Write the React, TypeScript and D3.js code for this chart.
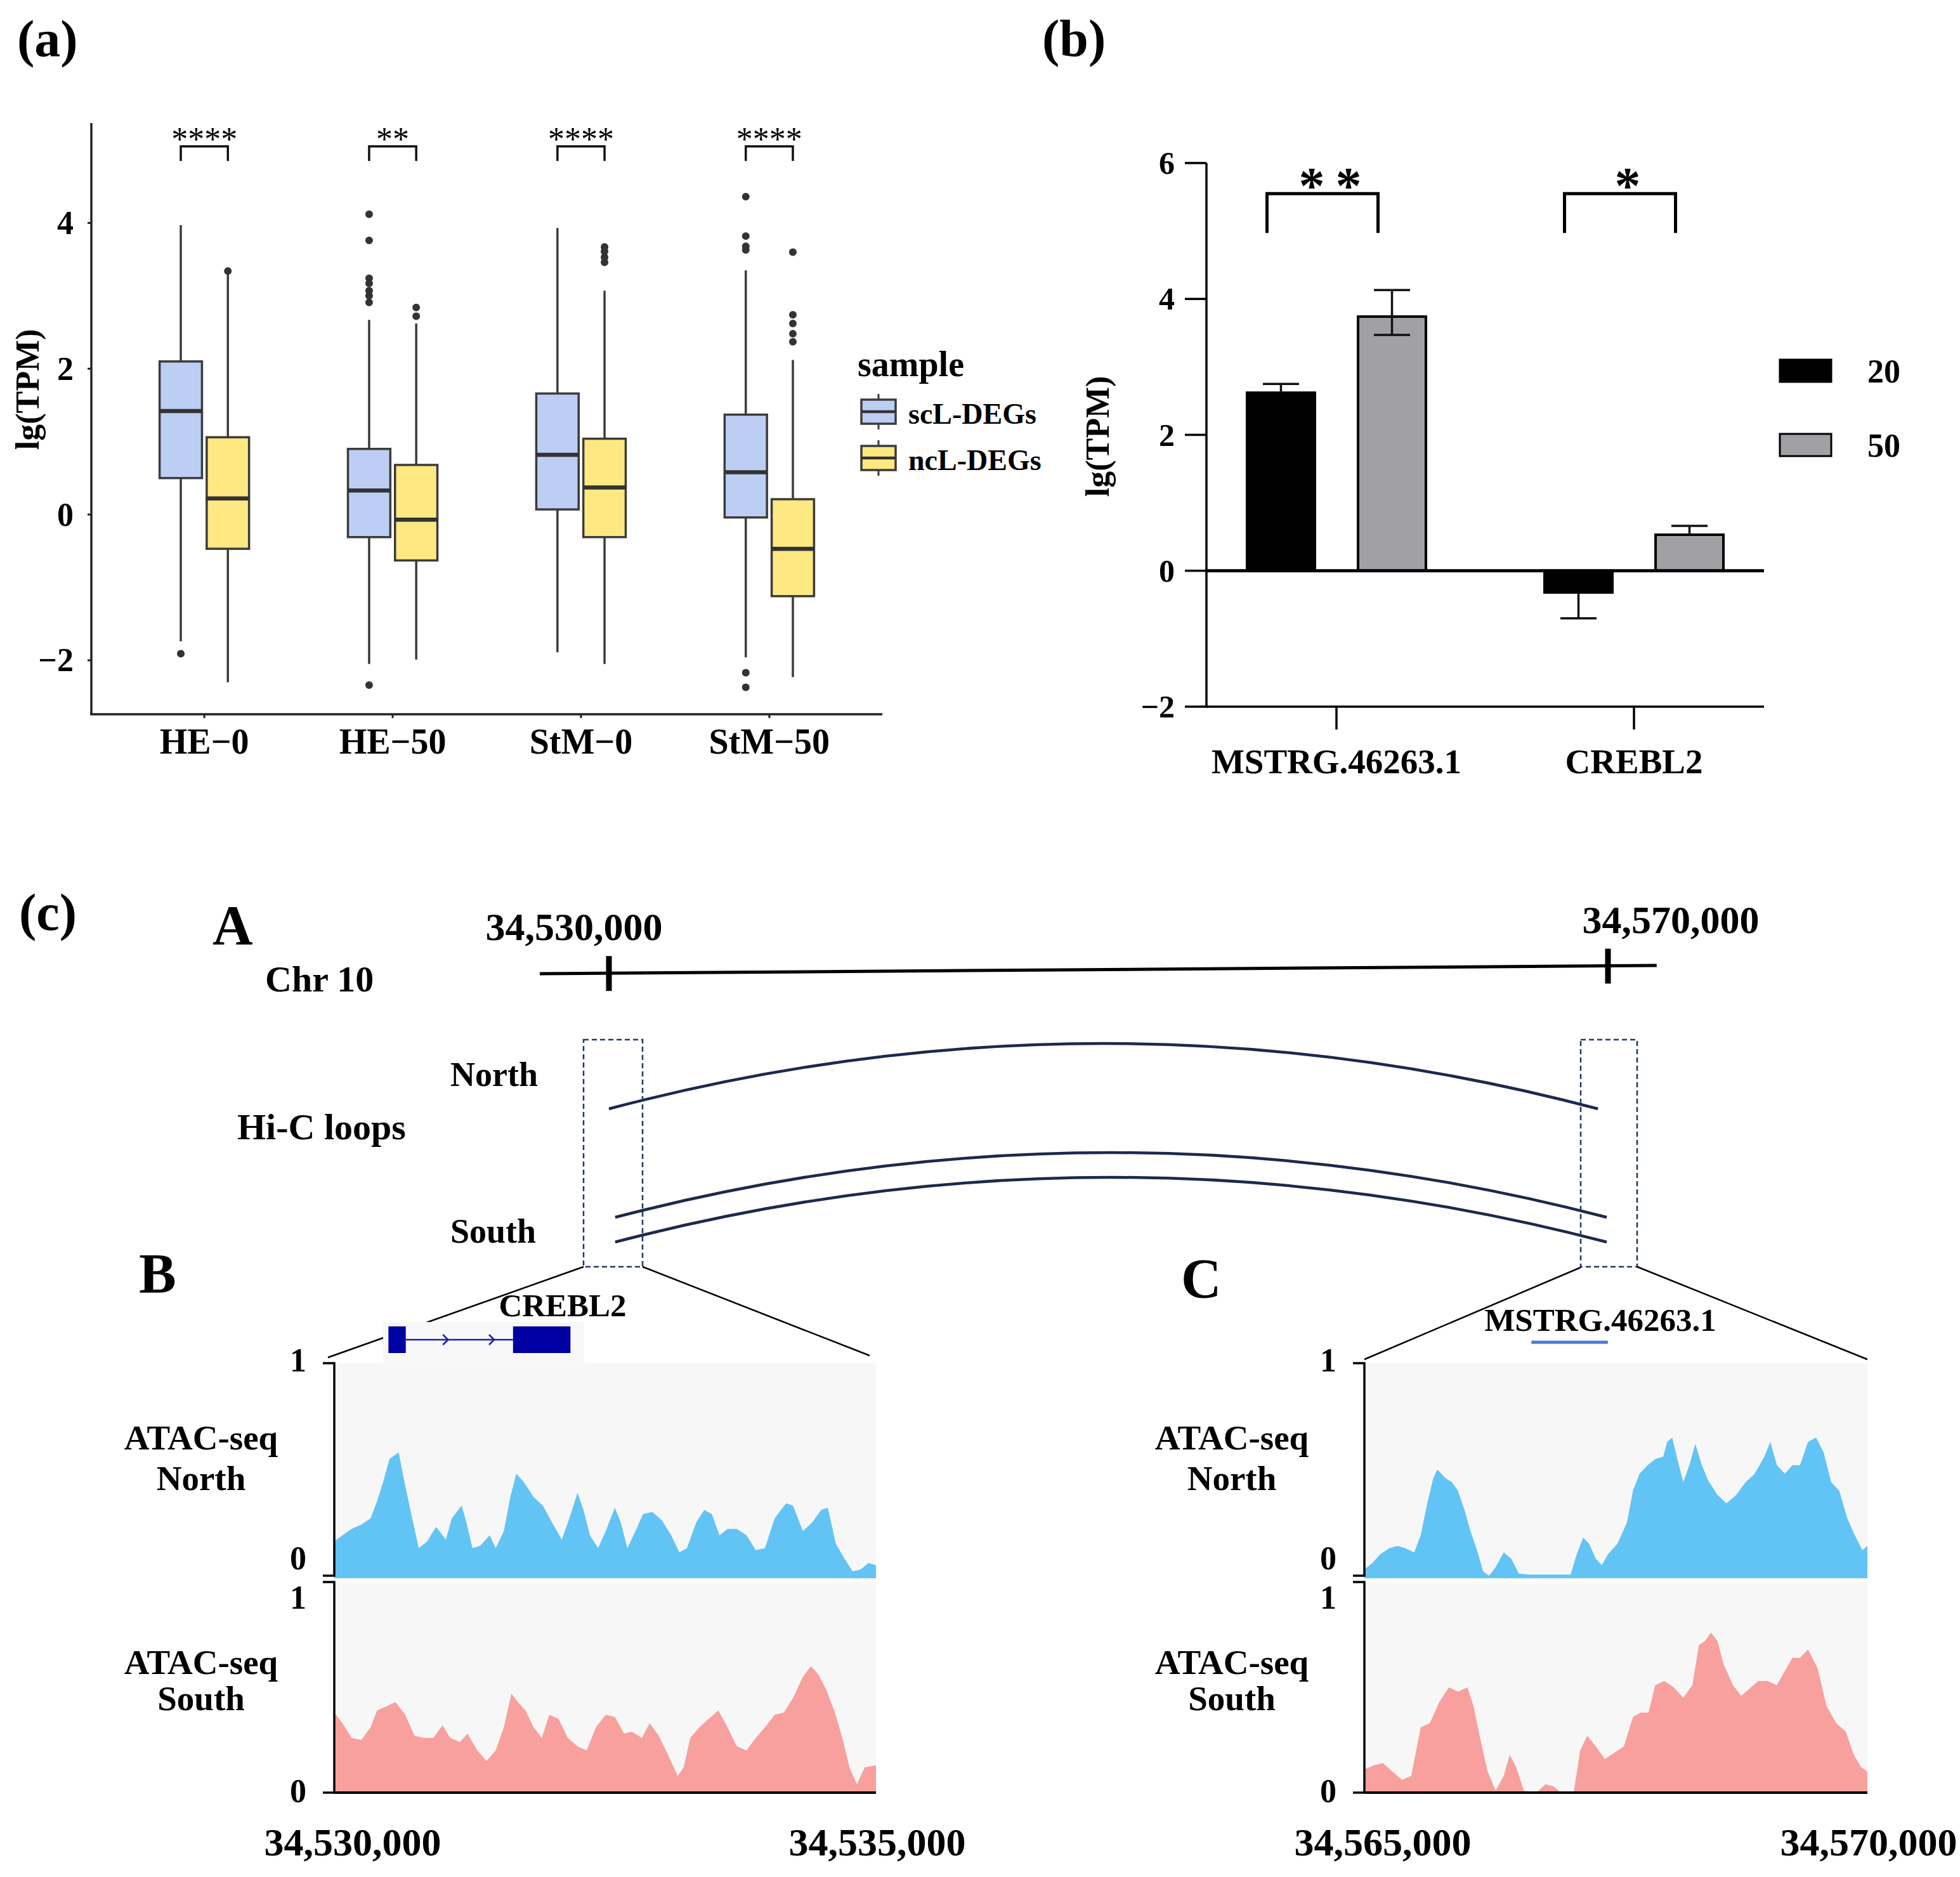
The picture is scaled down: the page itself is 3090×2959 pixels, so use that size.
import * as d3 from "d3";

const SERIF = "'Liberation Serif', 'Times New Roman', Times, serif";

// ---------- (a) box plots ----------
const GROUPS = ["HE−0", "HE−50", "StM−0", "StM−50"];
const SAMPLES = ["scL-DEGs", "ncL-DEGs"];
// [lower whisker, Q1, median, Q3, upper whisker]
const SCL_BOXES = [
  [-1.74, 0.5, 1.42, 2.1, 3.97],
  [-2.05, -0.31, 0.33, 0.9, 2.67],
  [-1.89, 0.07, 0.82, 1.66, 3.93],
  [-1.96, -0.04, 0.58, 1.37, 3.35],
];
const NCL_BOXES = [
  [-2.3, -0.47, 0.22, 1.06, 3.3],
  [-1.99, -0.63, -0.07, 0.68, 2.62],
  [-2.05, -0.31, 0.37, 1.04, 3.07],
  [-2.23, -1.12, -0.47, 0.21, 2.12],
];
const SCL_OUTLIERS = [
  [-1.91],
  [4.12, 3.76, 3.24, 3.17, 3.07, 3.0, 2.91, -2.34],
  [],
  [4.36, 3.82, 3.68, 3.63, -2.17, -2.37],
];
const NCL_OUTLIERS = [[3.34], [2.84, 2.72], [3.67, 3.61, 3.53, 3.46], [3.6, 2.74, 2.62, 2.48, 2.37]];
const SIGNIF_A = ["****", "**", "****", "****"];
const TICKS_A = [-2, 0, 2, 4];

// ---------- (b) bar chart ----------
const GENES = ["MSTRG.46263.1", "CREBL2"];
const TEMPS = ["20", "50"];
const MEAN_20 = [2.62, -0.32];
const LOW_20 = [2.62, -0.7];
const HIGH_20 = [2.75, -0.32];
const MEAN_50 = [3.74, 0.53];
const LOW_50 = [3.47, 0.53];
const HIGH_50 = [4.13, 0.66];
const SIGNIF_B = ["**", "*"];
const TICKS_B = [-2, 0, 2, 4, 6];

// ---------- (c) Hi-C loops and ATAC-seq ----------
const CHR_TICKS = [34530000, 34570000];
const CHR_SPAN = [34527230, 34571950];
const LOOPS_NORTH = [[34530000, 34569600]];
const LOOPS_SOUTH = [
  [34530250, 34569950],
  [34530250, 34569950],
];
const WINDOW_B = [34530000, 34535000];
const WINDOW_C = [34565000, 34570000];
const CREBL2_EXONS = [
  [500, 660],
  [1650, 2180],
];
const MSTRG_SPAN = [1660, 2420];

// [bp offset from window start, normalised signal]
const B_NORTH = [
  [0, 0.16], [75, 0.19], [160, 0.22], [250, 0.24], [335, 0.27], [395, 0.35], [450, 0.44], [510, 0.55],
  [595, 0.58], [640, 0.46], [710, 0.29], [780, 0.13], [855, 0.16], [940, 0.23], [1030, 0.17], [1085, 0.27],
  [1175, 0.33], [1220, 0.25], [1275, 0.13], [1345, 0.14], [1435, 0.19], [1490, 0.13], [1565, 0.21],
  [1625, 0.37], [1680, 0.48], [1750, 0.44], [1840, 0.37], [1925, 0.33], [2010, 0.25], [2100, 0.17],
  [2170, 0.27], [2245, 0.39], [2300, 0.31], [2360, 0.19], [2435, 0.13], [2505, 0.21], [2590, 0.32],
  [2645, 0.25], [2705, 0.13], [2780, 0.21], [2850, 0.29], [2935, 0.3], [3025, 0.26], [3110, 0.19],
  [3185, 0.11], [3255, 0.13], [3340, 0.25], [3415, 0.31], [3485, 0.29], [3555, 0.19], [3630, 0.22],
  [3715, 0.22], [3805, 0.19], [3890, 0.12], [3975, 0.13], [4065, 0.27], [4170, 0.34], [4235, 0.33],
  [4325, 0.21], [4410, 0.25], [4495, 0.31], [4555, 0.32], [4630, 0.15], [4710, 0.08], [4785, 0.02],
  [4860, 0.03], [4930, 0.06], [5000, 0.05],
];
const B_SOUTH = [
  [0, 0.38], [75, 0.33], [160, 0.26], [250, 0.25], [335, 0.31], [395, 0.39], [480, 0.41], [565, 0.43],
  [655, 0.37], [740, 0.27], [825, 0.26], [915, 0.26], [1000, 0.32], [1070, 0.26], [1160, 0.24],
  [1230, 0.28], [1320, 0.2], [1405, 0.15], [1490, 0.2], [1565, 0.31], [1635, 0.47], [1695, 0.43],
  [1765, 0.39], [1840, 0.31], [1915, 0.26], [1985, 0.37], [2070, 0.35], [2155, 0.26], [2245, 0.22],
  [2330, 0.2], [2415, 0.31], [2505, 0.37], [2590, 0.36], [2675, 0.28], [2745, 0.29], [2840, 0.26],
  [2910, 0.33], [2995, 0.27], [3080, 0.18], [3170, 0.08], [3225, 0.12], [3285, 0.26], [3370, 0.31],
  [3455, 0.35], [3545, 0.39], [3630, 0.31], [3715, 0.22], [3805, 0.2], [3890, 0.26], [3975, 0.31],
  [4065, 0.37], [4150, 0.38], [4235, 0.45], [4325, 0.55], [4400, 0.6], [4470, 0.56], [4540, 0.49],
  [4615, 0.39], [4690, 0.26], [4755, 0.12], [4825, 0.04], [4895, 0.12], [5000, 0.13],
];
const C_NORTH = [
  [0, 0.03], [80, 0.06], [155, 0.1], [250, 0.13], [330, 0.14], [405, 0.13], [495, 0.11], [560, 0.19],
  [620, 0.33], [685, 0.46], [725, 0.5], [805, 0.46], [870, 0.44], [930, 0.4], [995, 0.31], [1055, 0.21],
  [1120, 0.12], [1180, 0.02], [1240, 0], [1305, 0.04], [1385, 0.11], [1460, 0.08], [1535, 0.01],
  [1645, 0.005], [1770, 0.005], [1895, 0.005], [2050, 0.005], [2110, 0.1], [2175, 0.18], [2235, 0.15],
  [2300, 0.08], [2360, 0.05], [2420, 0.1], [2515, 0.15], [2610, 0.25], [2670, 0.4], [2735, 0.48],
  [2815, 0.52], [2895, 0.55], [2970, 0.56], [3010, 0.63], [3060, 0.65], [3105, 0.56], [3170, 0.44],
  [3230, 0.52], [3290, 0.62], [3355, 0.52], [3415, 0.45], [3510, 0.38], [3600, 0.34], [3695, 0.38],
  [3790, 0.44], [3880, 0.48], [3975, 0.56], [4035, 0.63], [4100, 0.52], [4180, 0.48], [4255, 0.52],
  [4330, 0.52], [4410, 0.63], [4490, 0.65], [4565, 0.58], [4640, 0.44], [4720, 0.4], [4800, 0.27],
  [4875, 0.19], [4950, 0.12], [5000, 0.14],
];
const C_SOUTH = [
  [0, 0.11], [95, 0.13], [185, 0.14], [280, 0.1], [375, 0.06], [465, 0.08], [560, 0.31], [650, 0.33],
  [745, 0.43], [840, 0.5], [930, 0.48], [1025, 0.5], [1085, 0.41], [1150, 0.26], [1225, 0.1],
  [1305, 0.01], [1385, 0.08], [1445, 0.18], [1510, 0.12], [1585, 0.01], [1710, 0], [1800, 0.04],
  [1880, 0.03], [1955, 0], [2080, 0], [2145, 0.2], [2215, 0.27], [2300, 0.22], [2390, 0.16],
  [2485, 0.19], [2580, 0.22], [2670, 0.36], [2750, 0.38], [2825, 0.38], [2890, 0.51], [2980, 0.53],
  [3075, 0.5], [3170, 0.45], [3260, 0.51], [3325, 0.7], [3385, 0.72], [3445, 0.76], [3510, 0.72],
  [3570, 0.61], [3665, 0.51], [3745, 0.46], [3820, 0.49], [3915, 0.53], [4005, 0.53], [4100, 0.51],
  [4195, 0.59], [4255, 0.64], [4330, 0.64], [4410, 0.68], [4505, 0.59], [4595, 0.41], [4690, 0.33],
  [4785, 0.29], [4865, 0.18], [4940, 0.12], [5000, 0.1],
];

const fmtInt = d3.format("d");
const fmtBp = d3.format(",");

function PanelA() {
  const x = d3.scalePoint<string>().domain(GROUPS).range([144, 1391]).padding(0.6);
  const y = d3.scaleLinear().domain([-2.74, 5.37]).range([1126, 194]);
  const step = x.step();
  const dodge = d3.scaleBand<string>().domain(SAMPLES).range([-step * 0.25, step * 0.25]);
  const fill = d3.scaleOrdinal<string, string>().domain(SAMPLES).range(["#bdcef5", "#fee882"]);
  const boxW = step * 0.225;
  const stroke = "#3b3b3b";
  const boxes = [SCL_BOXES, NCL_BOXES];
  const outliers = [SCL_OUTLIERS, NCL_OUTLIERS];
  const cx = (g: string, s: string) => (x(g) ?? 0) + (dodge(s) ?? 0) + dodge.bandwidth() / 2;

  return (
    <g>
      <text x={27} y={89} fontSize={82}>(a)</text>

      <line x1={144} x2={144} y1={194} y2={1127} stroke="#222" strokeWidth={3.5} />
      <line x1={142} x2={1391} y1={1126} y2={1126} stroke="#222" strokeWidth={3.5} />
      {TICKS_A.map((t) => (
        <g key={t}>
          <line x1={138} x2={144} y1={y(t)} y2={y(t)} stroke="#222" strokeWidth={3} />
          <text x={116} y={y(t)} textAnchor="end" dominantBaseline="central" fontSize={52}>
            {fmtInt(t)}
          </text>
        </g>
      ))}
      {GROUPS.map((g) => (
        <g key={g}>
          <line x1={x(g)} x2={x(g)} y1={1126} y2={1132} stroke="#222" strokeWidth={3} />
          <text x={x(g)} y={1188} textAnchor="middle" fontSize={56}>{g}</text>
        </g>
      ))}
      <text transform="translate(43,614) rotate(-90)" textAnchor="middle" dominantBaseline="central" fontSize={52}>
        lg(TPM)
      </text>

      {GROUPS.map((g, i) =>
        SAMPLES.map((s, j) => {
          const [lo, q1, med, q3, hi] = boxes[j][i];
          const c = cx(g, s);
          return (
            <g key={g + s}>
              <line x1={c} x2={c} y1={y(hi)} y2={y(q3)} stroke={stroke} strokeWidth={3.5} />
              <line x1={c} x2={c} y1={y(q1)} y2={y(lo)} stroke={stroke} strokeWidth={3.5} />
              <rect x={c - boxW / 2} y={y(q3)} width={boxW} height={y(q1) - y(q3)} fill={fill(s)} stroke={stroke} strokeWidth={3.5} />
              <line x1={c - boxW / 2} x2={c + boxW / 2} y1={y(med)} y2={y(med)} stroke="#333" strokeWidth={6.5} />
              {outliers[j][i].map((v, k) => (
                <circle key={k} cx={c} cy={y(v)} r={6} fill="#333" />
              ))}
            </g>
          );
        })
      )}

      {GROUPS.map((g, i) => {
        const l = cx(g, SAMPLES[0]);
        const r = cx(g, SAMPLES[1]);
        return (
          <g key={"sig" + g}>
            <path
              d={`M${l},${y(4.85)}V${y(5.05)}H${r}V${y(4.85)}`}
              fill="none"
              stroke="#111"
              strokeWidth={3.5}
            />
            <text x={(l + r) / 2} y={237} textAnchor="middle" fontSize={52} fontWeight="normal">
              {SIGNIF_A[i]}
            </text>
          </g>
        );
      })}

      <text x={1352} y={593} fontSize={56}>sample</text>
      {SAMPLES.map((s, j) => {
        const top = 630 + j * 73;
        const h = 38;
        return (
          <g key={"leg" + s}>
            <line x1={1385} x2={1385} y1={top - 9} y2={top + h + 9} stroke={stroke} strokeWidth={3} />
            <rect x={1358} y={top} width={54} height={h} fill={fill(s)} stroke={stroke} strokeWidth={3.5} />
            <line x1={1358} x2={1412} y1={top + h / 2} y2={top + h / 2} stroke="#333" strokeWidth={4.5} />
            <text x={1432} y={top + 38} fontSize={46}>{s}</text>
          </g>
        );
      })}
    </g>
  );
}

function PanelB() {
  const x = d3.scalePoint<string>().domain(GENES).range([1902, 2781]).padding(0.437);
  const y = d3.scaleLinear().domain([-2, 6]).range([1114, 257]);
  const step = x.step();
  const inner = d3.scaleBand<string>().domain(TEMPS).range([-0.373 * step, 0.373 * step]).paddingInner(0.389).paddingOuter(0.194);
  const fill = d3.scaleOrdinal<string, string>().domain(TEMPS).range(["#000000", "#a1a1a5"]);
  const means = [MEAN_20, MEAN_50];
  const lows = [LOW_20, LOW_50];
  const highs = [HIGH_20, HIGH_50];
  const bw = inner.bandwidth();
  const center = (g: string, t: string) => (x(g) ?? 0) + (inner(t) ?? 0) + bw / 2;
  const capW = 57;

  return (
    <g>
      <text x={1643} y={88} fontSize={82}>(b)</text>

      <line x1={1902} x2={1902} y1={257} y2={1116} stroke="#000" strokeWidth={3.5} />
      <line x1={1900} x2={2781} y1={1114} y2={1114} stroke="#000" strokeWidth={3.5} />
      {TICKS_B.map((t) => (
        <g key={t}>
          <line x1={1868} x2={1902} y1={y(t)} y2={y(t)} stroke="#000" strokeWidth={3.5} />
          <text x={1852} y={y(t)} textAnchor="end" dominantBaseline="central" fontSize={50}>
            {fmtInt(t)}
          </text>
        </g>
      ))}
      {GENES.map((g) => (
        <g key={g}>
          <line x1={x(g)} x2={x(g)} y1={1114} y2={1150} stroke="#000" strokeWidth={3.5} />
          <text x={x(g)} y={1219} textAnchor="middle" fontSize={55}>{g}</text>
        </g>
      ))}
      <text transform="translate(1730,688) rotate(-90)" textAnchor="middle" dominantBaseline="central" fontSize={52}>
        lg(TPM)
      </text>

      {GENES.map((g, i) =>
        TEMPS.map((t, j) => {
          const c = center(g, t);
          const m = means[j][i];
          const lo = lows[j][i];
          const hi = highs[j][i];
          return (
            <g key={g + t}>
              <rect
                x={c - bw / 2}
                y={Math.min(y(m), y(0))}
                width={bw}
                height={Math.abs(y(m) - y(0))}
                fill={fill(t)}
                stroke="#000"
                strokeWidth={4}
              />
              <line x1={c} x2={c} y1={y(lo)} y2={y(hi)} stroke="#111" strokeWidth={3.5} />
              {lo !== m && <line x1={c - capW / 2} x2={c + capW / 2} y1={y(lo)} y2={y(lo)} stroke="#111" strokeWidth={3.5} />}
              {hi !== m && <line x1={c - capW / 2} x2={c + capW / 2} y1={y(hi)} y2={y(hi)} stroke="#111" strokeWidth={3.5} />}
            </g>
          );
        })
      )}
      <line x1={1902} x2={2781} y1={y(0)} y2={y(0)} stroke="#000" strokeWidth={5} />

      {GENES.map((g, i) => {
        const l = center(g, TEMPS[0]) - 22;
        const r = center(g, TEMPS[1]) - 22;
        const stars = SIGNIF_B[i].split("");
        const mid = (l + r) / 2 + 12;
        return (
          <g key={"sig" + g}>
            <path d={`M${l},${y(4.97)}V${y(5.55)}H${r}V${y(4.97)}`} fill="none" stroke="#000" strokeWidth={5} />
            {stars.map((s, k) => (
              <text key={k} x={mid + (k - (stars.length - 1) / 2) * 58} y={320} textAnchor="middle" fontSize={82}>
                {s}
              </text>
            ))}
          </g>
        );
      })}

      {TEMPS.map((t, j) => {
        const top = j === 0 ? 567 : 684;
        return (
          <g key={"leg" + t}>
            <rect x={2806} y={top} width={81} height={35} fill={fill(t)} stroke="#000" strokeWidth={3} />
            <text x={2944} y={top + 18} dominantBaseline="central" fontSize={52}>{t}</text>
          </g>
        );
      })}
    </g>
  );
}

type Pt = number[];

function Tracks({ win, x0, x1, north, south, labelX }: { win: number[]; x0: number; x1: number; north: Pt[]; south: Pt[]; labelX: number }) {
  const x = d3.scaleLinear().domain([0, win[1] - win[0]]).range([x0, x1]);
  const yN = d3.scaleLinear().domain([0, 1]).range([2484, 2149]);
  const yS = d3.scaleLinear().domain([0, 1]).range([2826, 2494]);
  const areaN = d3.area<Pt>().x((d) => x(d[0])).y0(2488).y1((d) => yN(d[1]));
  const areaS = d3.area<Pt>().x((d) => x(d[0])).y0(2826).y1((d) => yS(d[1]));
  const axis = (top: number, bottom: number) => (
    <path d={`M${x0 - 18},${top}H${x0}V${bottom}H${x0 - 18}`} fill="none" stroke="#000" strokeWidth={3.5} />
  );
  return (
    <g>
      <rect x={x0} y={2149} width={x1 - x0} height={339} fill="#f7f7f7" />
      <rect x={x0} y={2494} width={x1 - x0} height={332} fill="#f7f7f7" />
      <line x1={x0} x2={x1} y1={2486} y2={2486} stroke="#b4b4b4" strokeWidth={4} />
      <path d={areaN(north) ?? ""} fill="#62c4f4" />
      <path d={areaS(south) ?? ""} fill="#f8a09d" />
      <line x1={x0} x2={x1} y1={2826} y2={2826} stroke="#000" strokeWidth={4} />
      {axis(2149, 2484)}
      {axis(2494, 2826)}
      <g textAnchor="end" fontSize={52}>
        <text x={x0 - 44} y={2162}>1</text>
        <text x={x0 - 44} y={2474}>0</text>
        <text x={x0 - 44} y={2536}>1</text>
        <text x={x0 - 44} y={2841}>0</text>
      </g>
      <g textAnchor="middle" fontSize={55}>
        <text x={labelX} y={2285}>ATAC-seq</text>
        <text x={labelX} y={2349}>North</text>
        <text x={labelX} y={2639}>ATAC-seq</text>
        <text x={labelX} y={2696}>South</text>
      </g>
      <g textAnchor="middle" fontSize={62}>
        <text x={x(0) + 29} y={2925}>{fmtBp(win[0])}</text>
        <text x={x(win[1] - win[0]) + 2} y={2925}>{fmtBp(win[1])}</text>
      </g>
    </g>
  );
}

function PanelC() {
  const chrX = d3.scaleLinear().domain(CHR_TICKS).range([960, 2535]);
  const chrY = d3.scaleLinear().domain([chrX(CHR_SPAN[0]), chrX(CHR_SPAN[1])]).range([1535, 1522]);
  const labelDx = [-55, 99];
  const loopColor = "#1b2a4c";
  const arc = (a: number, b: number, base: number, h: number) => {
    const p = d3.path();
    const xa = chrX(a);
    const xb = chrX(b);
    p.moveTo(xa, base);
    p.quadraticCurveTo((xa + xb) / 2, base - 2 * h, xb, base);
    return p.toString();
  };
  const southBases = [1919, 1958];
  const bx = d3.scaleLinear().domain([0, WINDOW_B[1] - WINDOW_B[0]]).range([527, 1381]);
  const cxs = d3.scaleLinear().domain([0, WINDOW_C[1] - WINDOW_C[0]]).range([2151, 2944]);

  return (
    <g>
      <text x={30} y={1466} fontSize={82}>(c)</text>
      <text x={335} y={1488} fontSize={88}>A</text>
      <text x={219} y={2037} fontSize={88}>B</text>
      <text x={1862} y={2045} fontSize={88}>C</text>

      <text x={418} y={1563} fontSize={58}>Chr 10</text>
      <line
        x1={chrX(CHR_SPAN[0])}
        x2={chrX(CHR_SPAN[1])}
        y1={chrY(chrX(CHR_SPAN[0]))}
        y2={chrY(chrX(CHR_SPAN[1]))}
        stroke="#000"
        strokeWidth={5}
      />
      {CHR_TICKS.map((t, i) => {
        const cy = chrY(chrX(t));
        return (
          <g key={t}>
            <line x1={chrX(t)} x2={chrX(t)} y1={cy - 27} y2={cy + 28} stroke="#000" strokeWidth={9} />
            <text x={chrX(t) + labelDx[i]} y={cy - 52} textAnchor="middle" fontSize={62}>
              {fmtBp(t)}
            </text>
          </g>
        );
      })}

      <text x={710} y={1712} fontSize={54}>North</text>
      <text x={374} y={1796} fontSize={58}>Hi-C loops</text>
      <text x={710} y={1959} fontSize={54}>South</text>

      {LOOPS_NORTH.map(([a, b], i) => (
        <path key={"n" + i} d={arc(a, b, 1748, 103)} fill="none" stroke={loopColor} strokeWidth={4.5} />
      ))}
      {LOOPS_SOUTH.map(([a, b], i) => (
        <path key={"s" + i} d={arc(a, b, southBases[i], 102)} fill="none" stroke={loopColor} strokeWidth={4.5} />
      ))}

      <rect x={920} y={1639} width={93} height={358} fill="none" stroke="#1f3a64" strokeWidth={2.5} strokeDasharray="8 5" />
      <rect x={2492} y={1639} width={89} height={358} fill="none" stroke="#1f3a64" strokeWidth={2.5} strokeDasharray="8 5" />

      <g stroke="#000" strokeWidth={2.5}>
        <line x1={920} y1={1997} x2={517} y2={2140} />
        <line x1={1013} y1={1997} x2={1371} y2={2137} />
        <line x1={2492} y1={1998} x2={2151} y2={2143} />
        <line x1={2581} y1={1997} x2={2944} y2={2143} />
      </g>

      <rect x={604} y={2084} width={317} height={65} fill="#f8f8f8" />
      <line x1={bx(CREBL2_EXONS[0][1])} x2={bx(CREBL2_EXONS[1][0])} y1={2112} y2={2112} stroke="#1c1cb4" strokeWidth={2.5} />
      {[0.37, 0.8].map((f, k) => {
        const ax = bx(CREBL2_EXONS[0][1]) + f * (bx(CREBL2_EXONS[1][0]) - bx(CREBL2_EXONS[0][1]));
        return <path key={k} d={`M${ax - 4},${2104}L${ax + 4},${2112}L${ax - 4},${2120}`} fill="none" stroke="#1c1cb4" strokeWidth={2.5} />;
      })}
      {CREBL2_EXONS.map(([s, e], k) => (
        <rect key={k} x={bx(s)} y={2091} width={bx(e) - bx(s)} height={42} fill="#0000a3" />
      ))}
      <text x={887} y={2075} textAnchor="middle" fontSize={51}>CREBL2</text>

      <line x1={cxs(MSTRG_SPAN[0])} x2={cxs(MSTRG_SPAN[1])} y1={2116} y2={2116} stroke="#4a7bd6" strokeWidth={5} />
      <text x={2523} y={2098} textAnchor="middle" fontSize={51}>MSTRG.46263.1</text>

      <Tracks win={WINDOW_B} x0={527} x1={1381} north={B_NORTH} south={B_SOUTH} labelX={317} />
      <Tracks win={WINDOW_C} x0={2151} x1={2944} north={C_NORTH} south={C_SOUTH} labelX={1942} />
    </g>
  );
}

export default function App() {
  return (
    <svg
      width={3090}
      height={2959}
      viewBox="0 0 3090 2959"
      style={{ position: "absolute", left: 0, top: 0, display: "block", background: "#fff" }}
      fontFamily={SERIF}
      fontWeight="bold"
      fill="#000"
    >
      <rect width={3090} height={2959} fill="#fff" />
      <PanelA />
      <PanelB />
      <PanelC />
    </svg>
  );
}
